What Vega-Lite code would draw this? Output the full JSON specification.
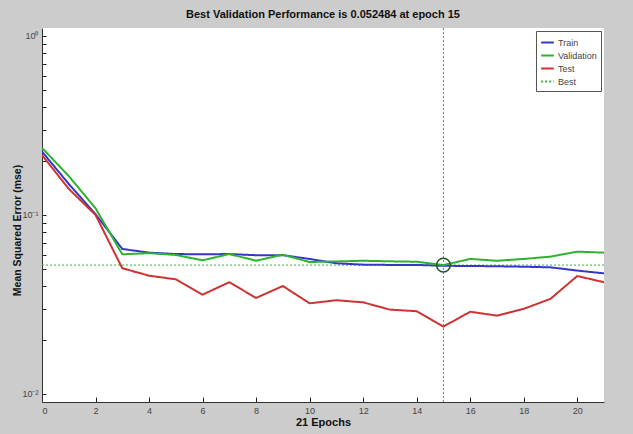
{
  "$schema": "https://vega.github.io/schema/vega-lite/v6.json",
  "width": 562,
  "height": 374,
  "autosize": {"type": "none"},
  "padding": {"left": 42, "top": 28, "right": 29, "bottom": 32},
  "background": "#cccccc",
  "view": {"fill": "white", "stroke": null},
  "title": {
    "text": "Best Validation Performance is 0.052484 at epoch 15",
    "font": "Liberation Sans",
    "fontSize": 11,
    "fontWeight": "bold",
    "color": "#111111",
    "offset": 8,
    "anchor": "middle"
  },
  "config": {
    "font": "Liberation Sans",
    "axis": {
      "domainColor": "#333333",
      "tickColor": "#222222",
      "tickWidth": 1,
      "labelColor": "#444444",
      "labelFontSize": 9,
      "titleFontSize": 11,
      "titleFontWeight": "bold",
      "titleColor": "#111111",
      "grid": false
    }
  },
  "datasets": {
    "perf": [
      {"epoch": 0, "series": "Train", "mse": 0.226},
      {"epoch": 1, "series": "Train", "mse": 0.149},
      {"epoch": 2, "series": "Train", "mse": 0.101},
      {"epoch": 3, "series": "Train", "mse": 0.0646},
      {"epoch": 4, "series": "Train", "mse": 0.0616},
      {"epoch": 5, "series": "Train", "mse": 0.0605},
      {"epoch": 6, "series": "Train", "mse": 0.0603},
      {"epoch": 7, "series": "Train", "mse": 0.0605},
      {"epoch": 8, "series": "Train", "mse": 0.0596},
      {"epoch": 9, "series": "Train", "mse": 0.0596},
      {"epoch": 10, "series": "Train", "mse": 0.0568},
      {"epoch": 11, "series": "Train", "mse": 0.0537},
      {"epoch": 12, "series": "Train", "mse": 0.0528},
      {"epoch": 13, "series": "Train", "mse": 0.0526},
      {"epoch": 14, "series": "Train", "mse": 0.0526},
      {"epoch": 15, "series": "Train", "mse": 0.0520},
      {"epoch": 16, "series": "Train", "mse": 0.0519},
      {"epoch": 17, "series": "Train", "mse": 0.0517},
      {"epoch": 18, "series": "Train", "mse": 0.0514},
      {"epoch": 19, "series": "Train", "mse": 0.0510},
      {"epoch": 20, "series": "Train", "mse": 0.0489},
      {"epoch": 21, "series": "Train", "mse": 0.0472},
      {"epoch": 0, "series": "Validation", "mse": 0.237},
      {"epoch": 1, "series": "Validation", "mse": 0.165},
      {"epoch": 2, "series": "Validation", "mse": 0.109},
      {"epoch": 3, "series": "Validation", "mse": 0.0603},
      {"epoch": 4, "series": "Validation", "mse": 0.0612},
      {"epoch": 5, "series": "Validation", "mse": 0.0598},
      {"epoch": 6, "series": "Validation", "mse": 0.0558},
      {"epoch": 7, "series": "Validation", "mse": 0.0605},
      {"epoch": 8, "series": "Validation", "mse": 0.0555},
      {"epoch": 9, "series": "Validation", "mse": 0.0600},
      {"epoch": 10, "series": "Validation", "mse": 0.0546},
      {"epoch": 11, "series": "Validation", "mse": 0.0550},
      {"epoch": 12, "series": "Validation", "mse": 0.0555},
      {"epoch": 13, "series": "Validation", "mse": 0.0551},
      {"epoch": 14, "series": "Validation", "mse": 0.0548},
      {"epoch": 15, "series": "Validation", "mse": 0.052484},
      {"epoch": 16, "series": "Validation", "mse": 0.0568},
      {"epoch": 17, "series": "Validation", "mse": 0.0555},
      {"epoch": 18, "series": "Validation", "mse": 0.0568},
      {"epoch": 19, "series": "Validation", "mse": 0.0585},
      {"epoch": 20, "series": "Validation", "mse": 0.0624},
      {"epoch": 21, "series": "Validation", "mse": 0.0616},
      {"epoch": 0, "series": "Test", "mse": 0.216},
      {"epoch": 1, "series": "Test", "mse": 0.140},
      {"epoch": 2, "series": "Test", "mse": 0.100},
      {"epoch": 3, "series": "Test", "mse": 0.0504},
      {"epoch": 4, "series": "Test", "mse": 0.0458},
      {"epoch": 5, "series": "Test", "mse": 0.0437},
      {"epoch": 6, "series": "Test", "mse": 0.0359},
      {"epoch": 7, "series": "Test", "mse": 0.0421},
      {"epoch": 8, "series": "Test", "mse": 0.0344},
      {"epoch": 9, "series": "Test", "mse": 0.0401},
      {"epoch": 10, "series": "Test", "mse": 0.0321},
      {"epoch": 11, "series": "Test", "mse": 0.0334},
      {"epoch": 12, "series": "Test", "mse": 0.0325},
      {"epoch": 13, "series": "Test", "mse": 0.0296},
      {"epoch": 14, "series": "Test", "mse": 0.0290},
      {"epoch": 15, "series": "Test", "mse": 0.0238},
      {"epoch": 16, "series": "Test", "mse": 0.0288},
      {"epoch": 17, "series": "Test", "mse": 0.0274},
      {"epoch": 18, "series": "Test", "mse": 0.0299},
      {"epoch": 19, "series": "Test", "mse": 0.0340},
      {"epoch": 20, "series": "Test", "mse": 0.0456},
      {"epoch": 21, "series": "Test", "mse": 0.0421}
    ],
    "best": [
      {"epoch": 15, "mse": 0.052484, "series": "Best"}
    ]
  },
  "layer": [
    {
      "data": {"name": "best"},
      "mark": {"type": "rule", "strokeWidth": 1, "stroke": "#3cb043", "strokeDash": [2, 2], "opacity": 1},
      "encoding": {
        "x": {"field": "epoch", "type": "quantitative"}
      }
    },
    {
      "data": {"name": "best"},
      "mark": {"type": "rule", "strokeWidth": 1},
      "encoding": {
        "y": {"field": "mse", "type": "quantitative"},
        "color": {"field": "series", "type": "nominal"},
        "strokeDash": {"field": "series", "type": "nominal"}
      }
    },
    {
      "data": {"name": "perf"},
      "mark": {"type": "line", "strokeWidth": 2, "clip": true},
      "encoding": {
        "x": {
          "field": "epoch",
          "type": "quantitative",
          "scale": {"domain": [0, 21], "nice": false, "zero": false},
          "axis": {
            "title": "21 Epochs",
            "values": [0, 2, 4, 6, 8, 10, 12, 14, 16, 18, 20],
            "tickSize": -5,
            "labelPadding": 9,
            "titlePadding": 1
          }
        },
        "y": {
          "field": "mse",
          "type": "quantitative",
          "scale": {"type": "log", "domain": [0.00902, 1.108], "nice": false},
          "axis": {
            "title": "Mean Squared Error  (mse)",
            "titleFontSize": 10.5,
            "titleAngle": -90,
            "titleX": -25,
            "titleY": 202,
            "titleAlign": "center",
            "titleBaseline": "middle",
            "values": [0.01, 0.02, 0.03, 0.04, 0.05, 0.06, 0.07, 0.08, 0.09, 0.1, 0.2, 0.3, 0.4, 0.5, 0.6, 0.7, 0.8, 0.9, 1],
            "labelExpr": "abs(datum.value - 1) < 1e-9 ? '10⁰' : abs(datum.value - 0.1) < 1e-9 ? '10⁻¹' : abs(datum.value - 0.01) < 1e-9 ? '10⁻²' : ''",
            "tickSize": -4,
            "labelPadding": 8
          }
        },
        "color": {
          "field": "series",
          "type": "nominal",
          "scale": {
            "domain": ["Train", "Validation", "Test", "Best"],
            "range": ["#3636c8", "#2fb32f", "#cc3333", "#3cb043"]
          },
          "legend": {
            "title": null,
            "orient": "top-right",
            "offset": 3,
            "symbolType": "stroke",
            "symbolSize": 160,
            "symbolStrokeWidth": 2,
            "labelFontSize": 9,
            "labelColor": "#444444",
            "labelOffset": 3,
            "rowPadding": 0,
            "padding": 4,
            "strokeColor": "#555555",
            "fillColor": "white"
          }
        },
        "strokeDash": {
          "field": "series",
          "type": "nominal",
          "scale": {
            "domain": ["Train", "Validation", "Test", "Best"],
            "range": [[1, 0], [1, 0], [1, 0], [2, 2]]
          },
          "legend": {
            "title": null,
            "orient": "top-right",
            "offset": 3,
            "symbolType": "stroke",
            "symbolSize": 160,
            "symbolStrokeWidth": 2,
            "labelFontSize": 9,
            "labelColor": "#444444",
            "labelOffset": 3,
            "rowPadding": 0,
            "padding": 4,
            "strokeColor": "#555555",
            "fillColor": "white"
          }
        }
      }
    },
    {
      "data": {"name": "best"},
      "mark": {"type": "point", "shape": "circle", "size": 190, "filled": false, "stroke": "#1e5a1e", "strokeWidth": 1.5, "opacity": 1},
      "encoding": {
        "x": {"field": "epoch", "type": "quantitative"},
        "y": {"field": "mse", "type": "quantitative"}
      }
    }
  ]
}
